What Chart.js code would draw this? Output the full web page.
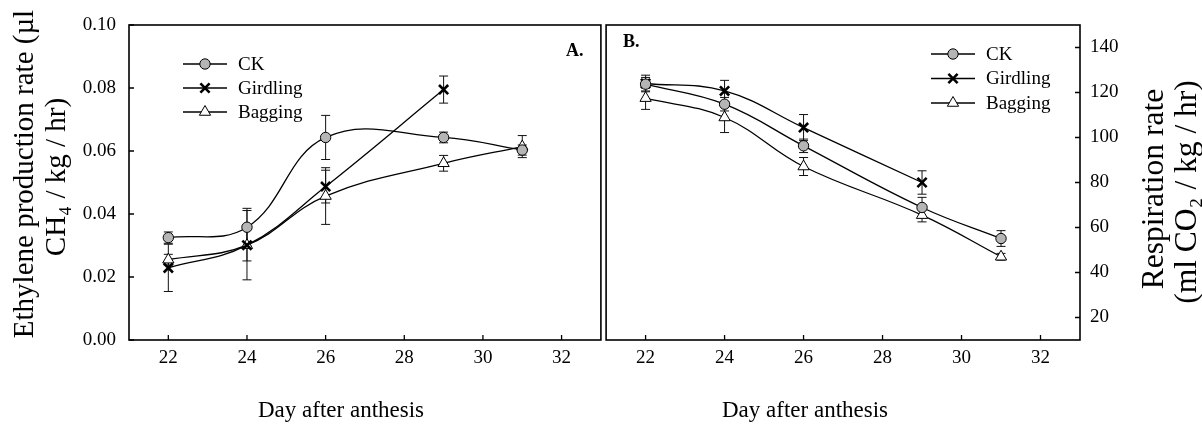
<!DOCTYPE html>
<html>
<head>
<meta charset="utf-8">
<script src="https://cdn.jsdelivr.net/npm/chart.js@4.4.1/dist/chart.umd.min.js"></script>
<style>
  html, body { margin: 0; padding: 0; background: #fff; }
  #wrap { position: relative; width: 1202px; height: 430px; overflow: hidden; }
  .panel { position: absolute; top: 0; }
  #panelA { left: 0; }
  #panelB { left: 597px; }
</style>
</head>
<body>
<div id="wrap">
  <div class="panel" id="panelA"><canvas id="chartA" width="610" height="430"></canvas></div>
  <div class="panel" id="panelB"><canvas id="chartB" width="605" height="430"></canvas></div>
</div>
<script>
// --- dados ---
const days = [22, 24, 26, 29, 31];
const seriesNames = ['CK', 'Girdling', 'Bagging'];
const xTickValues = [22, 24, 26, 28, 30, 32];
const ethTickValues = [0, 0.02, 0.04, 0.06, 0.08, 0.10];
const respTickValues = [20, 40, 60, 80, 100, 120, 140];

// A. etileno
const ethCK = [0.0325, 0.0358, 0.0643, 0.0643, 0.0603];
const ethCKErr = [0.0018, 0.006, 0.007, 0.0017, 0.0016];
const ethGird = [0.0229, 0.0301, 0.0487, 0.0795, null];
const ethGirdErr = [0.0075, 0.011, 0.0052, 0.0043, null];
const ethBag = [0.0255, 0.0301, 0.0457, 0.0561, 0.0614];
const ethBagErr = [0.0017, 0.005, 0.009, 0.0025, 0.0035];

// B. respiração
const respCK = [123.7, 114.8, 96.3, 68.9, 55.1];
const respCKErr = [3, 3, 3, 4.5, 3.5];
const respGird = [124, 120.7, 104.4, 80, null];
const respGirdErr = [3.7, 4.7, 5.8, 5.2, null];
const respBag = [117.5, 108.9, 87.1, 65.5, 47];
const respBagErr = [5, 6.7, 4, 3, 1.5];

const serif = '"Liberation Serif", "Times New Roman", serif';
const circleFill = '#b5b5b5';

function toPoints(values) {
    return days.map((d, i) => ({ x: d, y: values[i] })).filter(p => p.y !== null);
}

function makeDatasets(ck, ckErr, gird, girdErr, bag, bagErr) {
    const base = { borderColor: '#000', borderWidth: 1.3, tension: 0.4, pointBorderColor: '#000' };
    return [
        { ...base, label: seriesNames[0], data: toPoints(ck), errors: ckErr.filter(e => e !== null),
          pointStyle: 'circle', pointRadius: 5.2, pointBackgroundColor: circleFill, pointBorderWidth: 1 },
        { ...base, label: seriesNames[1], data: toPoints(gird), errors: girdErr.filter(e => e !== null),
          pointStyle: 'crossRot', pointRadius: 6.5, pointBackgroundColor: '#000', pointBorderWidth: 2.6 },
        { ...base, label: seriesNames[2], data: toPoints(bag), errors: bagErr.filter(e => e !== null),
          pointStyle: 'triangle', pointRadius: 6.5, pointBackgroundColor: '#fff', pointBorderWidth: 1 }
    ];
}

function drawMarker(ctx, ds, x, y) {
    ctx.save();
    ctx.fillStyle = ds.pointBackgroundColor;
    ctx.strokeStyle = '#000';
    ctx.lineWidth = ds.pointBorderWidth;
    Chart.helpers.drawPoint(ctx, { pointStyle: ds.pointStyle, radius: ds.pointRadius, rotation: 0, borderWidth: ds.pointBorderWidth }, x, y);
    ctx.restore();
}

// plugin: moldura, ticks para dentro, barras de erro, legenda, títulos
const panelDeco = {
    id: 'panelDeco',
    beforeDatasetsDraw(chart) {
        const ctx = chart.ctx;
        const yScale = chart.scales.y;
        ctx.save();
        ctx.strokeStyle = '#111';
        ctx.lineWidth = 1;
        chart.data.datasets.forEach((ds, i) => {
            const meta = chart.getDatasetMeta(i);
            meta.data.forEach((pt, j) => {
                const v = ds.data[j].y, e = ds.errors[j];
                if (!e) return;
                const yTop = yScale.getPixelForValue(v + e);
                const yBot = yScale.getPixelForValue(v - e);
                ctx.beginPath();
                ctx.moveTo(pt.x, yTop); ctx.lineTo(pt.x, yBot);
                ctx.moveTo(pt.x - 4.5, yTop); ctx.lineTo(pt.x + 4.5, yTop);
                ctx.moveTo(pt.x - 4.5, yBot); ctx.lineTo(pt.x + 4.5, yBot);
                ctx.stroke();
            });
        });
        ctx.restore();
    },
    afterDraw(chart, args, opts) {
        const ctx = chart.ctx;
        const area = chart.chartArea;
        const xScale = chart.scales.x, yScale = chart.scales.y;
        ctx.save();
        ctx.strokeStyle = '#000';
        // moldura
        ctx.lineWidth = 1.6;
        ctx.strokeRect(area.left, area.top, area.right - area.left, area.bottom - area.top);
        // ticks para dentro
        ctx.lineWidth = 1.3;
        ctx.beginPath();
        xScale.ticks.forEach(t => {
            const px = xScale.getPixelForValue(t.value);
            ctx.moveTo(px, area.bottom); ctx.lineTo(px, area.bottom - 5);
        });
        yScale.ticks.forEach(t => {
            const py = yScale.getPixelForValue(t.value);
            if (opts.yRight) { ctx.moveTo(area.right, py); ctx.lineTo(area.right - 5, py); }
            else { ctx.moveTo(area.left, py); ctx.lineTo(area.left + 5, py); }
        });
        ctx.stroke();

        // legenda
        const lg = opts.legend;
        ctx.font = '19px ' + serif;
        ctx.textBaseline = 'middle';
        ctx.fillStyle = '#000';
        chart.data.datasets.forEach((ds, i) => {
            const ly = lg.y + i * lg.gap;
            ctx.lineWidth = 1.3;
            ctx.beginPath();
            ctx.moveTo(lg.x, ly); ctx.lineTo(lg.x + 44, ly);
            ctx.stroke();
            drawMarker(ctx, ds, lg.x + 22, ly);
            ctx.fillStyle = '#000';
            ctx.fillText(ds.label, lg.x + 55, ly + 1);
        });

        // letra do painel
        ctx.font = 'bold 18px ' + serif;
        ctx.textBaseline = 'alphabetic';
        ctx.fillText(opts.tag.text, opts.tag.x, opts.tag.y);

        // título do eixo x
        ctx.font = '23px ' + serif;
        ctx.textAlign = 'center';
        ctx.textBaseline = 'middle';
        ctx.fillText('Day after anthesis', opts.xTitle.x, opts.xTitle.y);

        // título do eixo y (rodado, leitura de baixo para cima)
        ctx.font = opts.yTitle.size + 'px ' + serif;
        opts.yTitle.lines.forEach((line, k) => {
            ctx.save();
            ctx.translate(opts.yTitle.x[k], opts.yTitle.y[k]);
            ctx.rotate(-Math.PI / 2);
            ctx.fillText(line, 0, 0);
            ctx.restore();
        });
        ctx.restore();
    }
};

function baseOptions(yMin, yMax, yTicks, yRight, fmt, deco) {
    return {
        responsive: false,
        animation: false,
        layout: { padding: deco.padding },
        plugins: { legend: { display: false }, tooltip: { enabled: false }, panelDeco: deco },
        scales: {
            x: {
                type: 'linear', min: 21, max: 33,
                afterBuildTicks: s => { s.ticks = xTickValues.map(v => ({ value: v })); },
                afterFit: s => { s.height = 90; },
                grid: { display: false, drawTicks: false },
                border: { display: false },
                ticks: { padding: 7, color: '#000', font: { family: serif, size: 19 }, maxRotation: 0 }
            },
            y: {
                type: 'linear', position: yRight ? 'right' : 'left', min: yMin, max: yMax,
                afterBuildTicks: s => { s.ticks = yTicks.map(v => ({ value: v })); },
                afterFit: s => { s.width = deco.yWidth; },
                grid: { display: false, drawTicks: false },
                border: { display: false },
                ticks: { padding: yRight ? 10 : 13, color: '#000', font: { family: serif, size: 19 }, callback: fmt }
            }
        }
    };
}

// painel A: área 129..600 (a margem direita vem da metade do rótulo "32")
new Chart(document.getElementById('chartA'), {
    type: 'line',
    data: { datasets: makeDatasets(ethCK, ethCKErr, ethGird, ethGirdErr, ethBag, ethBagErr) },
    options: baseOptions(0, 0.10, ethTickValues, false, v => v.toFixed(2), {
        padding: { top: 25, left: 0, right: 0, bottom: 0 },
        yWidth: 129,
        yRight: false,
        legend: { x: 183, y: 64, gap: 24 },
        tag: { text: 'A.', x: 566, y: 56 },
        xTitle: { x: 341, y: 411 },
        yTitle: { size: 29, lines: ['Ethylene production rate (µl', 'CH₄ / kg / hr)'], x: [25, 57], y: [174, 177] }
    }),
    plugins: [panelDeco]
});

// painel B: canvas começa em 597, área 607..1080
new Chart(document.getElementById('chartB'), {
    type: 'line',
    data: { datasets: makeDatasets(respCK, respCKErr, respGird, respGirdErr, respBag, respBagErr) },
    options: baseOptions(10, 150, respTickValues, true, v => String(v), {
        padding: { top: 25, left: 0, right: 0, bottom: 0 },
        yWidth: 122,
        yRight: true,
        legend: { x: 334, y: 54, gap: 24.5 },
        tag: { text: 'B.', x: 26, y: 47 },
        xTitle: { x: 208, y: 411 },
        yTitle: { size: 31.5, lines: ['Respiration rate', '(ml CO₂ / kg / hr)'], x: [558, 591], y: [189, 192] }
    }),
    plugins: [panelDeco]
});
</script>
</body>
</html>
